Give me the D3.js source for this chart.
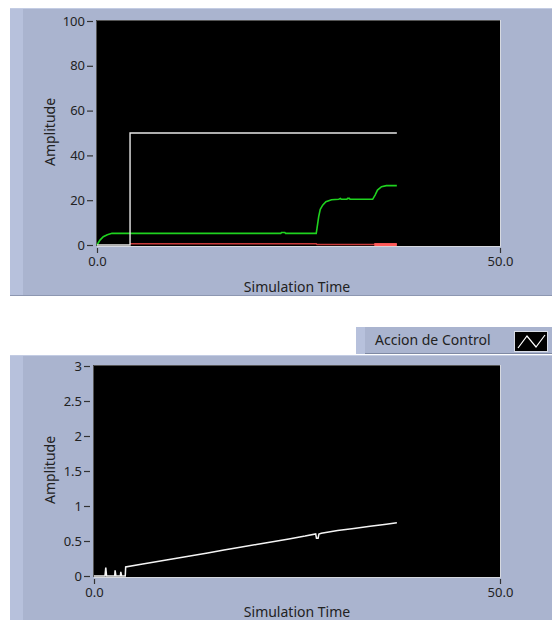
<!DOCTYPE html>
<html>
<head>
<meta charset="utf-8">
<script src="https://cdn.jsdelivr.net/npm/d3@7"></script>
<style>
  html, body { margin: 0; padding: 0; background: #ffffff; }
  svg { display: block; }
  text { font-family: "Noto Sans", "Open Sans", sans-serif; fill: #222; }
</style>
</head>
<body>
<svg id="chart" width="552" height="620"></svg>
<script>
// ---- Upper graph: setpoint, process output, error ----
const setpointTime  = [0, 4.1, 4.1, 37.2];
const setpointValue = [0, 0, 50, 50];

const outputTime  = [0, 0.37, 0.78, 1.28, 1.86, 10, 22.8, 22.9, 23.3, 23.4, 27.2, 27.3, 27.5, 27.7, 28.0, 28.4, 29.1, 30, 30.2, 30.3, 31.0, 31.1, 31.3, 31.4, 34.2, 34.5, 34.8, 35.3, 35.9, 37.2];
const outputValue = [0, 2.2, 3.7, 4.6, 5.2, 5.2, 5.2, 5.6, 5.6, 5.2, 5.2, 7.5, 12.6, 15.9, 17.8, 19.3, 20.2, 20.4, 20.8, 20.4, 20.4, 20.8, 20.8, 20.4, 20.4, 22.3, 24.5, 26.0, 26.5, 26.5];

const errorTime  = [4.1, 27.2, 27.3, 37.2];
const errorValue = [0.6, 0.6, 0.2, 0.2];
const errorTailTime  = [34.4, 37.2];
const errorTailValue = [0.2, 0.2];

const topYTicks  = [0, 20, 40, 60, 80, 100];
const topYLabels = ["0", "20", "40", "60", "80", "100"];

// ---- Lower graph: control action ----
const ctrlTime  = [0, 1.35, 1.45, 1.55, 2.55, 2.6, 2.7, 3.25, 3.3, 3.4, 3.85, 3.9, 6, 8, 10, 12, 14, 16, 18, 20, 22, 24, 26, 27.3, 27.4, 27.6, 27.7, 28, 30, 32, 34, 36, 37.3];
const ctrlValue = [0, 0, 0.12, 0, 0, 0.08, 0, 0, 0.06, 0, 0, 0.13, 0.17, 0.21, 0.25, 0.29, 0.33, 0.37, 0.41, 0.45, 0.49, 0.53, 0.57, 0.6, 0.54, 0.54, 0.6, 0.61, 0.65, 0.68, 0.71, 0.74, 0.76];

const botYTicks  = [0, 0.5, 1, 1.5, 2, 2.5, 3];
const botYLabels = ["0", "0.5", "1", "1.5", "2", "2.5", "3"];

const xTicks  = [0, 50];
const xLabels = ["0.0", "50.0"];

const legendLabel = "Accion de Control";

const svg = d3.select("#chart");
const panelFill = "#aab4cf";

function zip(ts, vs) { return ts.map((t, i) => ({ t, v: vs[i] })); }

function panel(y0, y1) {
  const g = svg.append("g");
  g.append("rect").attr("x", 10).attr("y", y0).attr("width", 542).attr("height", y1 - y0).attr("fill", panelFill);
  g.append("rect").attr("x", 10).attr("y", y0).attr("width", 13).attr("height", y1 - y0).attr("fill", "#b7c1dc");
  g.append("line").attr("x1", 10).attr("x2", 552).attr("y1", y0 + 0.5).attr("y2", y0 + 0.5).attr("stroke", "#c3cce3");
  return g;
}

function graph(cfg) {
  const x = d3.scaleLinear().domain([0, 50]).range([cfg.x0, cfg.x1]);
  const y = d3.scaleLinear().domain(cfg.yDomain).range([cfg.yBase, cfg.yTop]);
  const g = svg.append("g");

  // plot area
  g.append("rect").attr("x", cfg.left).attr("y", cfg.top)
    .attr("width", cfg.right - cfg.left).attr("height", cfg.bottom - cfg.top).attr("fill", "#000");
  g.append("path").attr("d", `M${cfg.left + 0.5},${cfg.bottom}V${cfg.top + 0.5}H${cfg.right}`)
    .attr("fill", "none").attr("stroke", "#555");
  g.append("path").attr("d", `M${cfg.left + 1},${cfg.bottom + 0.5}H${cfg.right + 0.5}V${cfg.top}`)
    .attr("fill", "none").attr("stroke", "#d6d9e0");

  // y axis
  const ya = d3.axisLeft(y).tickValues(cfg.yTicks).tickSize(6).tickPadding(2)
    .tickFormat((d, i) => cfg.yLabels[i]);
  const yg = g.append("g").attr("transform", `translate(${cfg.left - 3},0)`).call(ya);
  yg.select(".domain").remove();
  yg.selectAll(".tick line").attr("stroke", "#333").attr("stroke-width", 1.2);
  yg.selectAll(".tick text").attr("font-size", 13).attr("fill", "#333")
    .attr("font-family", "'Noto Sans', sans-serif");

  // x axis
  const xa = d3.axisBottom(x).tickValues(xTicks).tickSize(5).tickPadding(4)
    .tickFormat((d, i) => xLabels[i]);
  const xg = g.append("g").attr("transform", `translate(0,${cfg.bottom + 2})`).call(xa);
  xg.select(".domain").remove();
  xg.selectAll(".tick line").attr("stroke", "#333").attr("stroke-width", 1.2);
  xg.selectAll(".tick text").attr("font-size", 13).attr("fill", "#333")
    .attr("font-family", "'Noto Sans', sans-serif");

  // axis titles
  g.append("text").attr("x", 297).attr("y", cfg.xTitleY).attr("text-anchor", "middle")
    .attr("font-size", 14).text("Simulation Time");
  g.append("text").attr("transform", `translate(${55},${cfg.yTitleY}) rotate(-90)`)
    .attr("text-anchor", "middle").attr("font-size", 14).text("Amplitude");

  const clip = "clip" + cfg.top;
  g.append("clipPath").attr("id", clip).append("rect")
    .attr("x", cfg.left).attr("y", cfg.top - 2).attr("width", cfg.right - cfg.left).attr("height", cfg.bottom - cfg.top + 3);
  const plot = g.append("g").attr("clip-path", `url(#${clip})`);
  const line = d3.line().x(d => x(d.t)).y(d => y(d.v));
  return { x, y, plot, line };
}

// upper panel
panel(8, 296);
svg.append("line").attr("x1", 10).attr("x2", 552).attr("y1", 295.5).attr("y2", 295.5).attr("stroke", "#8d97b1");
const upper = graph({
  left: 96, right: 500, top: 20, bottom: 246,
  x0: 97, x1: 500, yBase: 245, yTop: 21, yDomain: [0, 100],
  yTicks: topYTicks, yLabels: topYLabels,
  xTitleY: 292, yTitleY: 132
});
upper.plot.append("path").datum(zip(errorTime, errorValue)).attr("d", upper.line)
  .attr("fill", "none").attr("stroke", "#c83a3a").attr("stroke-width", 1.5);
upper.plot.append("path").datum(zip(errorTailTime, errorTailValue)).attr("d", upper.line)
  .attr("fill", "none").attr("stroke", "#ff5a5a").attr("stroke-width", 3);
upper.plot.append("path").datum(zip(outputTime, outputValue)).attr("d", upper.line)
  .attr("fill", "none").attr("stroke", "#1fd21f").attr("stroke-width", 1.6);
upper.plot.append("path").datum(zip(setpointTime, setpointValue)).attr("d", upper.line)
  .attr("fill", "none").attr("stroke", "#e8e8e8").attr("stroke-width", 1.4);

// legend for the lower graph
const lg = svg.append("g");
lg.append("rect").attr("x", 356).attr("y", 327).attr("width", 196).attr("height", 27).attr("fill", panelFill);
lg.append("rect").attr("x", 356).attr("y", 327).attr("width", 9).attr("height", 27).attr("fill", "#b7c1dc");
lg.append("line").attr("x1", 365).attr("x2", 552).attr("y1", 353.5).attr("y2", 353.5).attr("stroke", "#7f89a3");
lg.append("text").attr("x", 375).attr("y", 345).attr("font-size", 14).text(legendLabel);
lg.append("rect").attr("x", 514.5).attr("y", 331.5).attr("width", 33).attr("height", 20).attr("fill", "#000")
  .attr("stroke", "#d8dce6").attr("stroke-width", 1);
lg.append("path").attr("d", "M518,348L527,336L536,347L545,335")
  .attr("fill", "none").attr("stroke", "#fff").attr("stroke-width", 1.2);

// lower panel
panel(355, 620);
const lower = graph({
  left: 93, right: 500, top: 365, bottom: 577,
  x0: 94, x1: 500, yBase: 576, yTop: 366, yDomain: [0, 3],
  yTicks: botYTicks, yLabels: botYLabels,
  xTitleY: 617, yTitleY: 470
});
lower.plot.append("path").datum(zip(ctrlTime, ctrlValue)).attr("d", lower.line)
  .attr("fill", "none").attr("stroke", "#f4f4f4").attr("stroke-width", 1.5);
</script>
</body>
</html>
